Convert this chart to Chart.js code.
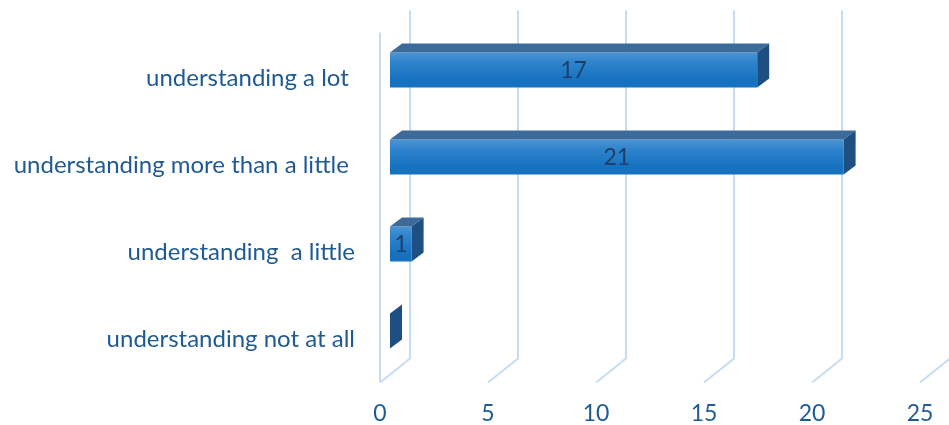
<!DOCTYPE html>
<html>
<head>
<meta charset="utf-8">
<script src="https://cdn.jsdelivr.net/npm/chart.js@4.4.1/dist/chart.umd.min.js"></script>
<style>
  html, body { margin: 0; padding: 0; background: #fff; }
  #wrap { width: 949px; height: 425px; }
</style>
</head>
<body>
<div id="wrap"><canvas id="chart"></canvas></div>
<script>
const categories = [
  'understanding a lot ',
  'understanding more than a little ',
  'understanding  a little',
  'understanding not at all'
];
const counts = [17, 21, 1, 0];
const xTicks = [0, 5, 10, 15, 20, 25];

// depth of the floor / back wall, and where the bars sit inside it
const WALL_DX = 30, WALL_DY = 24;
const BAR_DX = 10, BAR_DY = 8;
const SIDE_DX = 12, SIDE_DY = 9;

const TEXT_BLUE = '#1f5a94';
const GRID_BLUE = '#c6dcf2';

function frontGradient(context) {
  const chart = context.chart;
  const yScale = chart.scales.y;
  if (!chart.chartArea || !yScale) return '#2a7fc6';
  const cy = yScale.getPixelForValue(context.dataIndex) - BAR_DY;
  const h = 35;
  const g = chart.ctx.createLinearGradient(0, cy - h / 2, 0, cy + h / 2);
  g.addColorStop(0, '#3a7cc0');
  g.addColorStop(0.25, '#4b93d4');
  g.addColorStop(0.5, '#2f84cc');
  g.addColorStop(1, '#1672bf');
  return g;
}

const box3d = {
  id: 'box3d',
  beforeDatasetsDraw(chart) {
    const { ctx, chartArea: area } = chart;
    const x = chart.scales.x;
    ctx.save();
    ctx.strokeStyle = GRID_BLUE;
    ctx.lineWidth = 2;
    // left wall front edge
    ctx.beginPath();
    ctx.moveTo(area.left, area.top - 2);
    ctx.lineTo(area.left, area.bottom);
    ctx.stroke();
    xTicks.forEach(v => {
      const px = x.getPixelForValue(v);
      ctx.beginPath();
      ctx.moveTo(px, area.bottom);
      ctx.lineTo(px + WALL_DX, area.bottom - WALL_DY);
      ctx.lineTo(px + WALL_DX, area.top - WALL_DY);
      ctx.stroke();
    });
    ctx.restore();

    ctx.save();
    ctx.translate(BAR_DX, -BAR_DY);
  },
  afterDatasetsDraw(chart) {
    const ctx = chart.ctx;
    const meta = chart.getDatasetMeta(0);
    meta.data.forEach((bar, i) => {
      const { x, y, base, height } = bar.getProps(['x', 'y', 'base', 'height'], true);
      const top = y - height / 2, bottom = y + height / 2;

      ctx.fillStyle = '#3c6a99';
      ctx.beginPath();
      ctx.moveTo(base, top);
      ctx.lineTo(x, top);
      ctx.lineTo(x + SIDE_DX, top - SIDE_DY);
      ctx.lineTo(base + SIDE_DX, top - SIDE_DY);
      ctx.closePath();
      ctx.fill();

      ctx.fillStyle = '#1d4f82';
      ctx.beginPath();
      ctx.moveTo(x, top);
      ctx.lineTo(x + SIDE_DX, top - SIDE_DY);
      ctx.lineTo(x + SIDE_DX, bottom - SIDE_DY);
      ctx.lineTo(x, bottom);
      ctx.closePath();
      ctx.fill();

      if (counts[i] > 0) {
        ctx.fillStyle = '#1e3f6b';
        ctx.font = '23px Lato';
        ctx.textAlign = 'center';
        ctx.textBaseline = 'middle';
        ctx.fillText(String(counts[i]), (base + x) / 2, y + 1);
      }
    });
    ctx.restore();
  }
};

new Chart(document.getElementById('chart'), {
  type: 'bar',
  data: {
    labels: categories,
    datasets: [{
      data: counts,
      backgroundColor: frontGradient,
      borderWidth: 0,
      categoryPercentage: 0.8,
      barPercentage: 0.5
    }]
  },
  options: {
    indexAxis: 'y',
    responsive: true,
    maintainAspectRatio: false,
    animation: false,
    events: [],
    layout: { padding: { top: 34.5, right: 29, left: 0, bottom: 0 } },
    plugins: { legend: { display: false }, tooltip: { enabled: false } },
    scales: {
      x: {
        min: 0,
        max: 25,
        afterBuildTicks(scale) { scale.ticks = xTicks.map(v => ({ value: v })); },
        afterFit(scale) { scale.height = 42.5; },
        grid: { display: false },
        border: { display: false },
        ticks: { color: TEXT_BLUE, font: { family: 'Lato', size: 23 }, padding: 9 }
      },
      y: {
        afterFit(scale) { scale.width = 380; },
        grid: { display: false },
        border: { display: false },
        ticks: { color: TEXT_BLUE, font: { family: 'Lato', size: 24 }, padding: 17 }
      }
    }
  },
  plugins: [box3d]
});
</script>
</body>
</html>
